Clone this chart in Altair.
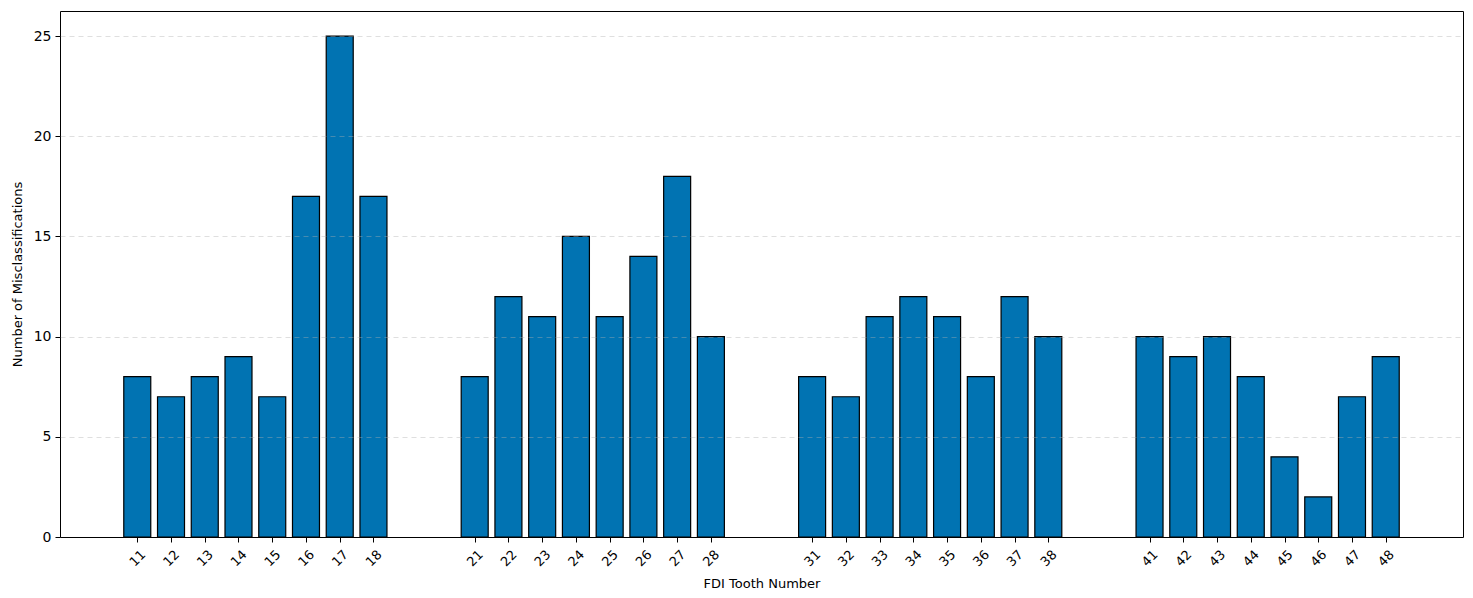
import altair as alt
import pandas as pd

teeth = [11, 12, 13, 14, 15, 16, 17, 18,
         21, 22, 23, 24, 25, 26, 27, 28,
         31, 32, 33, 34, 35, 36, 37, 38,
         41, 42, 43, 44, 45, 46, 47, 48]
errors = [8, 7, 8, 9, 7, 17, 25, 17,
          8, 12, 11, 15, 11, 14, 18, 10,
          8, 7, 11, 12, 11, 8, 12, 10,
          10, 9, 10, 8, 4, 2, 7, 9]
y_ticks = [0, 5, 10, 15, 20, 25]

df = pd.DataFrame({"tooth": teeth, "count": errors})

FONT = "DejaVu Sans"

bars = alt.Chart(df).transform_calculate(
    x0="datum.tooth - 0.4", x1="datum.tooth + 0.4"
).mark_bar(
    color="#0173B2", stroke="black", strokeWidth=1.2
).encode(
    x=alt.X("x0:Q",
            scale=alt.Scale(domain=[8.71, 50.29], nice=False, zero=False),
            axis=alt.Axis(values=teeth, title="FDI Tooth Number", labelAngle=-45,
                          labelAlign="center", labelBaseline="middle", labelPadding=16,
                          labelFont=FONT, labelFontSize=13, labelColor="black",
                          titleFont=FONT, titleFontSize=13, titleFontWeight="normal",
                          titleColor="black", titlePadding=9,
                          tickColor="black", tickSize=5, domain=False, grid=False,
                          labelExpr="datum.value + ''")),
    x2="x1:Q",
    y=alt.Y("count:Q",
            scale=alt.Scale(domain=[0, 26.25], nice=False),
            axis=alt.Axis(values=y_ticks, title="Number of Misclassifications",
                          labelFont=FONT, labelFontSize=14, labelColor="black",
                          titleFont=FONT, titleFontSize=13, titleFontWeight="normal",
                          titleColor="black", titlePadding=9, labelPadding=4,
                          tickColor="black", tickSize=5, domain=False,
                          grid=True, gridColor="#b0b0b0",
                          gridOpacity={"condition": {"test": "datum.value == 0", "value": 0}, "value": 0.5},
                          gridDash=[5, 4], gridWidth=0.8, zindex=1)),
    y2=alt.datum(0),
)

chart = bars.properties(
    width=1403, height=526,
    background="white",
    autosize=alt.AutoSizeParams(type="none"),
    padding={"left": 52, "top": 3, "right": 2, "bottom": 58},
).configure_view(
    stroke="black", strokeWidth=1
)

chart.save("out.html", embed_options={"renderer": "svg", "actions": False})
